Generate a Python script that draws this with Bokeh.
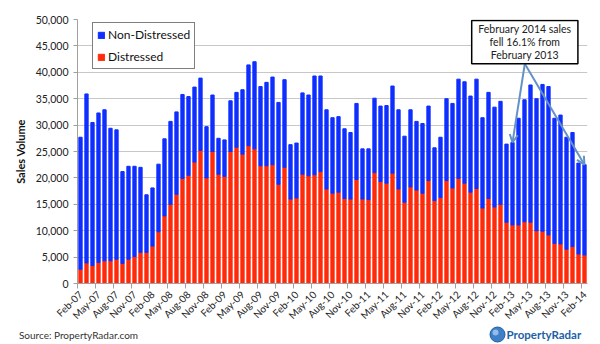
from bokeh.plotting import figure
from bokeh.layouts import column
from bokeh.models import (ColumnDataSource, FixedTicker, NumeralTickFormatter, Legend,
                          LegendItem, Label, Arrow, OpenHead, Range1d, BoxAnnotation, LinearAxis)
from bokeh.embed import file_html
from bokeh.resources import INLINE

# ---------------- data ----------------
month_names = ["Jan", "Feb", "Mar", "Apr", "May", "Jun", "Jul", "Aug", "Sep", "Oct", "Nov", "Dec"]
months = []
for yr in range(7, 15):
    for mi, mn in enumerate(month_names):
        if (yr == 7 and mi < 1) or (yr == 14 and mi > 1):
            continue
        months.append(f"{mn}-{yr:02d}")

tick_labels = ["Feb-07", "May-07", "Aug-07", "Nov-07", "Feb-08", "May-08", "Aug-08", "Nov-08",
               "Feb-09", "May-09", "Aug-09", "Nov-09", "Feb-10", "May-10", "Aug-10", "Nov-10",
               "Feb-11", "May-11", "Aug-11", "Nov-11", "Feb-12", "May-12", "Aug-12", "Nov-12",
               "Feb-13", "May-13", "Aug-13", "Nov-13", "Feb-14"]

distressed = [2700, 3900, 3400, 4000, 4300, 4300, 4600, 3800, 4600, 5100, 5900, 5900,
              7100, 9800, 12800, 15000, 16900, 19900, 20500, 23000, 25200, 20000, 25000, 20700,
              20300, 25000, 25800, 24500, 26100, 25500, 22300, 22300, 22500, 18800, 22000, 16000,
              16200, 20700, 20400, 20600, 21200, 17900, 17100, 17300, 16100, 16000, 19700, 16000,
              15900, 21000, 19300, 19000, 20900, 17900, 15400, 18300, 17700, 17100, 19500, 15700,
              16300, 19500, 18100, 19900, 19000, 17300, 18000, 14300, 16100, 14500, 15000, 11600,
              11100, 11100, 11700, 11600, 10000, 9900, 9200, 7600, 7500, 6500, 7000, 5600,
              5400]

non_distressed = [25000, 32000, 27100, 28300, 28600, 25100, 24500, 17400, 17600, 17100, 16100, 10900,
                  11000, 12800, 14600, 15700, 15600, 15900, 14900, 14200, 13700, 9700, 10700, 6800,
                  6900, 9600, 10400, 12200, 15300, 16500, 15000, 15800, 16600, 15500, 16600, 10300,
                  10400, 15400, 15300, 18700, 18100, 15000, 14300, 14300, 13200, 12600, 14400, 9500,
                  9600, 14100, 14300, 14700, 16500, 15000, 12500, 14600, 13000, 13200, 14100, 10000,
                  11400, 15500, 16000, 18800, 19200, 18200, 20700, 17100, 20100, 18900, 19500, 14800,
                  15600, 20200, 23100, 26000, 25000, 27800, 28100, 23700, 24400, 21200, 21600, 17200,
                  17100]

source_text = "Source: PropertyRadar.com"
logo_text = "PropertyRadar"

# ---------------- figure ----------------
BLUE = "#0F2FFF"
RED = "#FF2A0A"
FONT = "Lato"

x_idx = list(range(len(months)))
src = ColumnDataSource(dict(x=x_idx, month=months, distressed=distressed,
                            non_distressed=non_distressed))

p = figure(width=600, height=344, output_backend="svg", toolbar_location=None,
           x_range=Range1d(-0.5, len(months) - 0.5), y_range=Range1d(0, 50000),
           min_border_left=77, min_border_right=13, min_border_top=19, min_border_bottom=61)
p.outline_line_color = None
p.background_fill_color = "white"
p.border_fill_color = "white"

r_red, r_blue = p.vbar_stack(["distressed", "non_distressed"], x="x", width=0.55,
                             color=[RED, BLUE], source=src)

# axes
tick_pos = [months.index(t) for t in tick_labels]
p.xaxis.ticker = FixedTicker(ticks=tick_pos, minor_ticks=[t - 0.5 for t in tick_pos])
p.xaxis.major_label_overrides = {t: lab for t, lab in zip(tick_pos, tick_labels)}
p.xaxis.major_label_orientation = 0.785
p.xaxis.major_tick_out = 0
p.xaxis.major_tick_in = 0
p.xaxis.minor_tick_out = 5
p.xaxis.minor_tick_in = 0
p.xaxis.minor_tick_line_color = "#a0a0a0"
p.xaxis.axis_line_color = "#a0a0a0"
p.xaxis.major_label_text_font = FONT
p.xaxis.major_label_text_font_size = "10px"
p.xaxis.major_label_text_color = "#222222"
p.xaxis.major_label_standoff = 4
p.xgrid.visible = False

p.yaxis.ticker = FixedTicker(ticks=list(range(0, 50001, 5000)))
p.yaxis.formatter = NumeralTickFormatter(format="0,0")
p.yaxis.minor_tick_line_color = None
p.yaxis.major_tick_out = 4
p.yaxis.major_tick_in = 0
p.yaxis.major_tick_line_color = "#a0a0a0"
p.yaxis.axis_line_color = "#a0a0a0"
p.yaxis.major_label_text_font = FONT
p.yaxis.major_label_text_font_size = "10.5px"
p.yaxis.major_label_text_color = "#222222"
p.yaxis.major_label_standoff = 5
p.yaxis.axis_label = "Sales Volume"
p.yaxis.axis_label_text_font = FONT
p.yaxis.axis_label_text_font_style = "bold"
p.yaxis.axis_label_text_font_size = "11px"
p.yaxis.axis_label_text_color = "#111111"
p.yaxis.axis_label_standoff = 6
p.ygrid.grid_line_color = "#c8c8c8"
p.ygrid.grid_line_width = 1

# legend
legend = Legend(items=[LegendItem(label="Non-Distressed", renderers=[r_blue]),
                       LegendItem(label="Distressed", renderers=[r_red])],
                location=(15, 214))
legend.border_line_color = "black"
legend.border_line_width = 1.5
legend.padding = 4
legend.spacing = 7
legend.margin = 0
legend.label_height = 15
legend.glyph_width = 8
legend.glyph_height = 8
legend.label_standoff = 3
legend.label_text_font = FONT
legend.label_text_font_size = "12px"
legend.label_text_color = "#111111"
legend.background_fill_alpha = 1
p.add_layout(legend)

# annotation
feb13 = months.index("Feb-13")
feb14 = months.index("Feb-14")
ARROW = "#6592C6"
ann_x, ann_top, ann_bottom = 74.05, 49800, 41600
for xi in (feb13, feb14):
    p.add_layout(Arrow(end=OpenHead(size=8, line_color=ARROW, line_width=2),
                       x_start=ann_x, y_start=ann_bottom,
                       x_end=xi, y_end=distressed[xi] + non_distressed[xi],
                       line_color=ARROW, line_width=2))
p.add_layout(BoxAnnotation(left=65.2, right=82.9, top=ann_top, bottom=ann_bottom,
                           fill_color="white", fill_alpha=1, line_color="black",
                           line_width=1.5, line_alpha=1))
p.add_layout(Label(x=ann_x, y=(ann_top + ann_bottom) / 2,
                   text="February 2014 sales\nfell 16.1% from\nFebruary 2013",
                   text_align="center", text_baseline="middle", text_font=FONT,
                   text_font_size="10.5px", text_color="#222222", text_line_height=1.1))

# ---------------- footer A: source text as an axis label (side panels are not clipped) ----
# frames are aligned with the main frame (page x 77..587), so ranges map page pixels
fa = figure(width=600, height=44, output_backend="svg", toolbar_location=None,
            x_range=Range1d(77, 587), y_range=Range1d(0, 1),
            min_border=0, min_border_left=0, min_border_right=0,
            min_border_top=0, min_border_bottom=24, x_axis_location=None, y_axis_location=None)
fa.margin = (-44, 0, 0, 0)
fa.grid.visible = False
fa.outline_line_color = None
fa.border_fill_alpha = 0
fa.background_fill_alpha = 0
src_axis = LinearAxis(ticker=FixedTicker(ticks=[78], minor_ticks=[]),
                      major_label_overrides={78: source_text})
src_axis.axis_line_color = None
src_axis.major_tick_line_color = None
src_axis.minor_tick_line_color = None
src_axis.major_tick_out = 0
src_axis.major_tick_in = 0
src_axis.major_label_standoff = 8
src_axis.major_label_text_font = FONT
src_axis.major_label_text_font_size = "10px"
src_axis.major_label_text_color = "#333333"
fa.add_layout(src_axis, "below")

# ---------------- footer B: logo ----------------
fb = figure(width=600, height=24, output_backend="svg", toolbar_location=None,
            x_range=Range1d(77, 587), y_range=Range1d(0, 24),
            min_border=0, min_border_left=0, min_border_right=0,
            min_border_top=0, min_border_bottom=0, x_axis_location=None, y_axis_location=None)
fb.margin = (-24, 0, 0, 0)
fb.grid.visible = False
fb.outline_line_color = None
fb.border_fill_alpha = 0
fb.background_fill_alpha = 0
fb.scatter(x=[497], y=[10], size=15, marker="circle", fill_color="#3f7fc8",
           line_color="#1d5fa8", line_width=1)
fb.scatter(x=[495], y=[12], size=6, marker="circle", fill_color="#a9cdf0",
           line_color=None, fill_alpha=0.8)
fb.add_layout(Label(x=506, y=10, text=logo_text, text_font=FONT,
                    text_font_size="11.5px", text_font_style="bold", text_color="#1d5fa8",
                    text_baseline="middle", text_align="left"))

layout = column(p, fa, fb, spacing=0)
open("out.html", "w").write(file_html(layout, INLINE))
